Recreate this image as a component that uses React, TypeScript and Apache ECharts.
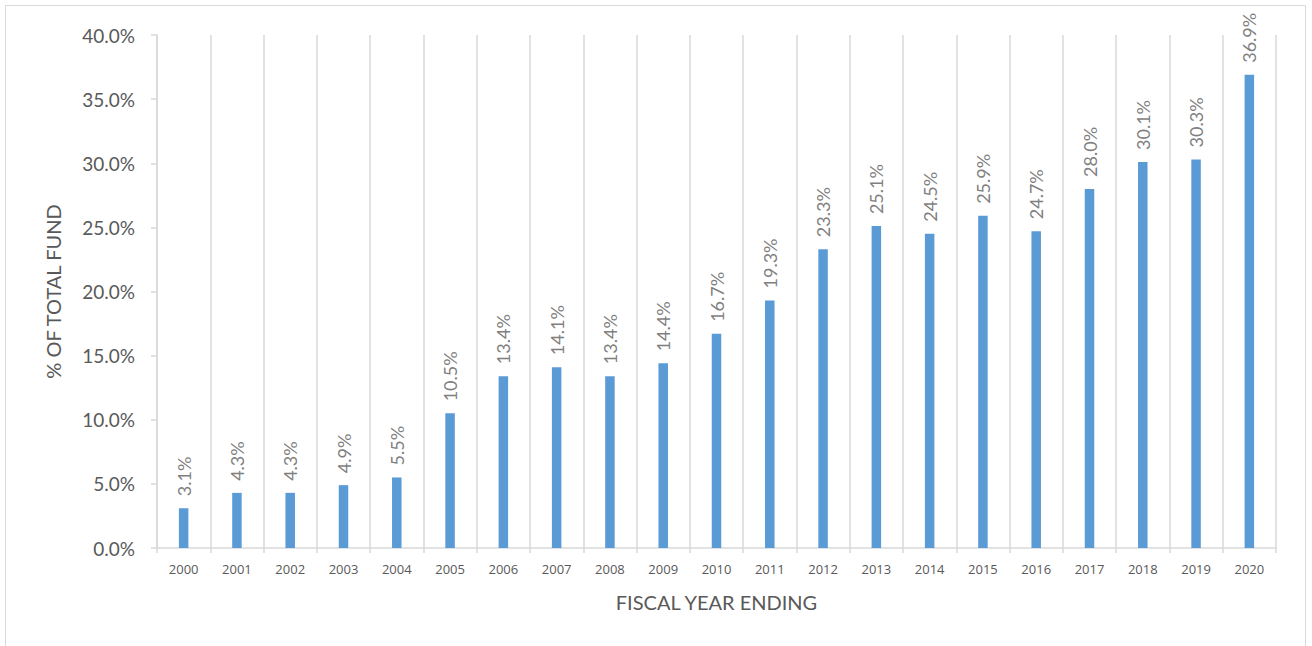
import React, { useEffect, useRef } from "react";
import * as echarts from "echarts";

const years = ["2000","2001","2002","2003","2004","2005","2006","2007","2008","2009","2010","2011","2012","2013","2014","2015","2016","2017","2018","2019","2020"];
const shares = [3.1,4.3,4.3,4.9,5.5,10.5,13.4,14.1,13.4,14.4,16.7,19.3,23.3,25.1,24.5,25.9,24.7,28.0,30.1,30.3,36.9];
const yTitle = "% OF TOTAL FUND";
const xTitle = "FISCAL YEAR ENDING";

const FONT = "Lato";
const GRAY = "#595959";
const LABEL_GRAY = "#7f7f7f";
const LINE = "#d9d9d9";

export default function App() {
  const ref = useRef<HTMLDivElement>(null);
  useEffect(() => {
    if (!ref.current) return;
    const chart = echarts.init(ref.current, null, { renderer: "svg" });
    chart.setOption({
      animation: false,
      backgroundColor: "#ffffff",
      textStyle: { fontFamily: FONT },
      graphic: [
        {
          type: "rect",
          shape: { x: 5.5, y: 5.5, width: 1300, height: 700 },
          style: { fill: "none", stroke: LINE, lineWidth: 1 },
          silent: true,
        },
      ],
      grid: { left: 157, top: 35, right: 36, bottom: 98, containLabel: false },
      xAxis: {
        type: "category",
        data: years,
        boundaryGap: true,
        name: xTitle,
        nameLocation: "middle",
        nameGap: 44,
        nameTextStyle: { color: GRAY, fontSize: 20, fontFamily: FONT },
        axisLine: { show: true, lineStyle: { color: LINE, width: 1.5 } },
        axisTick: { show: true, length: 5, alignWithLabel: false, lineStyle: { color: LINE, width: 1.5 } },
        axisLabel: { color: GRAY, fontSize: 13, margin: 14, fontFamily: "Open Sans" },
        splitLine: { show: true, lineStyle: { color: LINE, width: 1.5 } },
      },
      yAxis: {
        type: "value",
        min: 0,
        max: 40,
        interval: 5,
        name: yTitle,
        nameLocation: "middle",
        nameGap: 94,
        nameRotate: 90,
        nameTextStyle: { color: GRAY, fontSize: 20, fontFamily: FONT },
        axisLine: { show: true, lineStyle: { color: LINE, width: 1.5 } },
        axisTick: { show: true, length: 6, lineStyle: { color: LINE, width: 1.5 } },
        axisLabel: {
          color: GRAY,
          fontSize: 19,
          margin: 22,
          fontFamily: FONT,
          formatter: (v: number) => v.toFixed(1) + "%",
        },
        splitLine: { show: false },
      },
      series: [
        {
          type: "bar",
          data: shares,
          barWidth: 9.5,
          itemStyle: { color: "#5B9BD5" },
          label: {
            show: true,
            position: "top",
            rotate: 90,
            align: "left",
            verticalAlign: "middle",
            distance: 12,
            color: LABEL_GRAY,
            fontSize: 18,
            fontFamily: FONT,
            formatter: (p: any) => Number(p.value).toFixed(1) + "%",
          },
        },
      ],
    });
    return () => chart.dispose();
  }, []);
  return <div ref={ref} style={{ position: "fixed", left: 0, top: 0, width: 1312, height: 646 }} />;
}
